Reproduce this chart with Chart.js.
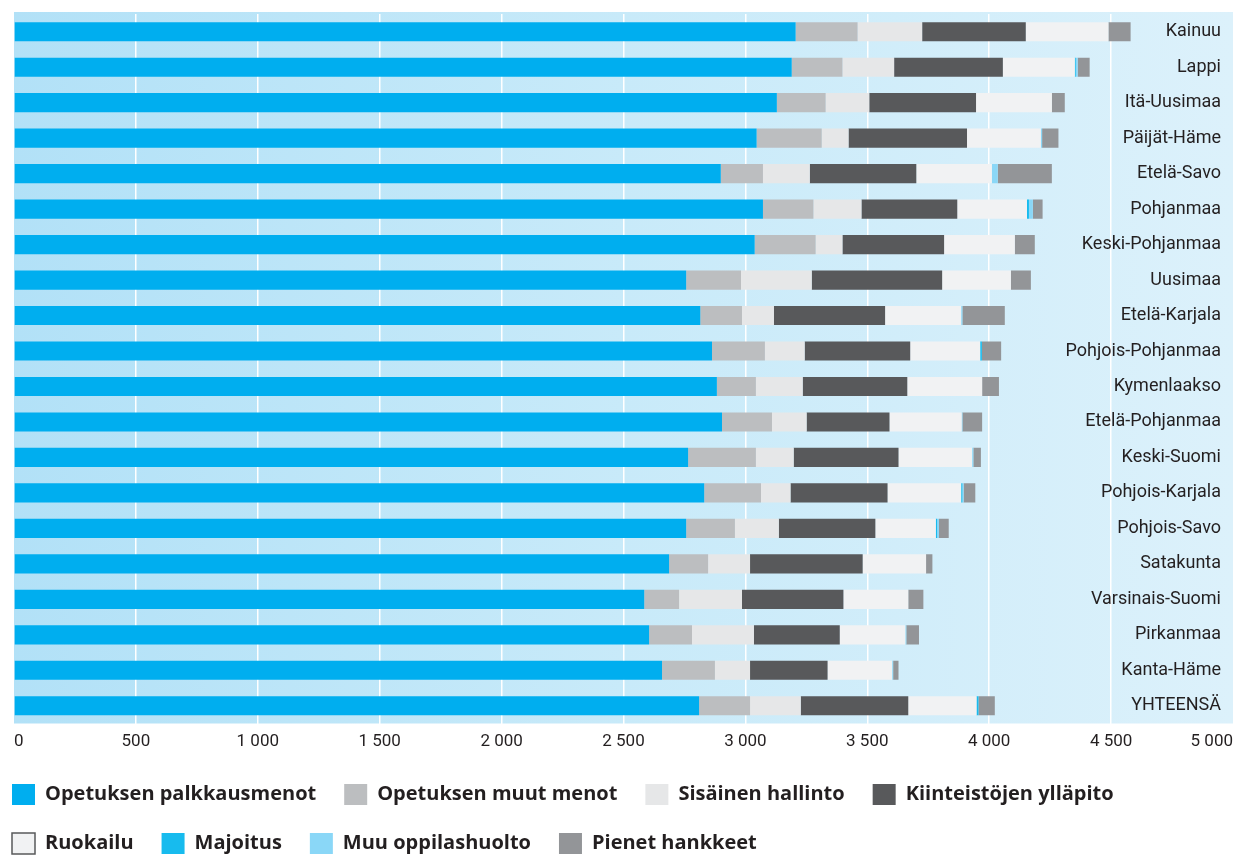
<!DOCTYPE html>
<html>
<head>
<meta charset="utf-8">
<script src="https://cdn.jsdelivr.net/npm/chart.js@4.4.1/dist/chart.umd.min.js"></script>
<style>
  html, body { margin: 0; padding: 0; background: #fff; overflow: hidden; }
  #wrap { position: relative; width: 1233px; height: 864px; }
</style>
</head>
<body>
<div id="wrap"><canvas id="costChart"></canvas></div>
<script>
// Regions, top to bottom
const regions = ['Kainuu', 'Lappi', 'Itä-Uusimaa', 'Päijät-Häme', 'Etelä-Savo', 'Pohjanmaa',
  'Keski-Pohjanmaa', 'Uusimaa', 'Etelä-Karjala', 'Pohjois-Pohjanmaa', 'Kymenlaakso',
  'Etelä-Pohjanmaa', 'Keski-Suomi', 'Pohjois-Karjala', 'Pohjois-Savo', 'Satakunta',
  'Varsinais-Suomi', 'Pirkanmaa', 'Kanta-Häme', 'YHTEENSÄ'];

const palkkausmenot = [3206, 3190, 3129, 3046, 2899, 3072, 3038, 2757, 2815, 2863, 2883, 2904, 2765, 2831, 2757, 2687, 2585, 2605, 2658, 2810];
const muutMenot     = [254, 208, 200, 267, 173, 207, 250, 225, 171, 217, 160, 205, 278, 233, 200, 160, 143, 176, 217, 209];
const hallinto      = [265, 212, 179, 110, 192, 197, 110, 290, 131, 163, 192, 142, 155, 121, 180, 172, 258, 254, 144, 208];
const kiinteistot   = [425, 446, 438, 486, 437, 393, 417, 535, 456, 433, 429, 340, 430, 398, 396, 462, 416, 352, 318, 441];
const ruokailu      = [339, 295, 311, 303, 310, 286, 290, 282, 312, 287, 307, 296, 302, 302, 248, 260, 266, 269, 265, 280];
const majoitus      = [0, 4, 0, 0, 0, 8, 0, 0, 0, 7, 0, 0, 0, 5, 5, 0, 0, 0, 0, 8];
const oppilashuolto = [0, 8, 0, 5, 24, 16, 0, 0, 5, 0, 0, 3, 5, 5, 8, 0, 0, 4, 4, 0];
const hankkeet      = [91, 49, 53, 67, 222, 40, 82, 82, 174, 79, 69, 81, 31, 48, 40, 26, 62, 52, 22, 67];

const xTickValues = [0, 500, 1000, 1500, 2000, 2500, 3000, 3500, 4000, 4500, 5000];

const textColor = '#231f20';
const axisFont = 'Roboto, "Liberation Sans", sans-serif';

function fmt(v) {
  return String(v).replace(/\B(?=(\d{3})+(?!\d))/g, ' ');
}

// light blue plot background
const plotBackground = {
  id: 'plotBackground',
  beforeDraw(chart) {
    const { ctx, chartArea: a } = chart;
    const g = ctx.createLinearGradient(a.left, 0, chart.width, 0);
    g.addColorStop(0, '#b2e1f7');
    g.addColorStop(0.5, '#c8eaf9');
    g.addColorStop(1, '#dcf1fb');
    ctx.save();
    ctx.fillStyle = g;
    ctx.fillRect(a.left, a.top - 2, chart.width - a.left, a.bottom - a.top + 2);
    ctx.restore();
  }
};

function series(label, data, color) {
  return { label: label, data: data, backgroundColor: color, borderWidth: 0 };
}

const ctx = document.getElementById('costChart').getContext('2d');

new Chart(ctx, {
  type: 'bar',
  data: {
    labels: regions,
    datasets: [
      series('Opetuksen palkkausmenot', palkkausmenot, '#00aeef'),
      series('Opetuksen muut menot', muutMenot, '#bcbec0'),
      series('Sisäinen hallinto', hallinto, '#e6e7e8'),
      series('Kiinteistöjen ylläpito', kiinteistot, '#58595b'),
      series('Ruokailu', ruokailu, '#f1f2f3'),
      series('Majoitus', majoitus, '#17bbee'),
      series('Muu oppilashuolto', oppilashuolto, '#8ad7f7'),
      series('Pienet hankkeet', hankkeet, '#939598')
    ]
  },
  options: {
    indexAxis: 'y',
    responsive: true,
    maintainAspectRatio: false,
    animation: false,
    layout: {
      padding: { top: 14, left: -16, right: 0, bottom: 0 }
    },
    datasets: {
      bar: { barPercentage: 0.54, categoryPercentage: 1 }
    },
    scales: {
      x: {
        stacked: true,
        min: 0,
        max: 5000,
        grid: {
          color: c => (c.tick && (c.tick.value === 0 || c.tick.value === 5000)) ? 'rgba(0,0,0,0)' : '#ffffff',
          lineWidth: 1.5,
          drawTicks: false
        },
        border: { display: false },
        ticks: {
          align: 'inner',
          padding: 8,
          color: textColor,
          font: { family: axisFont, size: 17 },
          callback: v => fmt(v)
        },
        afterBuildTicks(scale) {
          scale.ticks = xTickValues.map(v => ({ value: v }));
        },
        afterFit(scale) {
          scale.paddingLeft = 14;
          scale.paddingRight = 0;
          scale.height = 32.5;
        }
      },
      y: {
        stacked: true,
        position: 'right',
        grid: { display: false, drawTicks: false },
        border: { display: false },
        ticks: {
          mirror: true,
          padding: -12,
          color: textColor,
          font: { family: axisFont, size: 18 }
        },
        afterFit(scale) {
          scale.width = 0;
        }
      }
    },
    plugins: {
      legend: {
        position: 'bottom',
        align: 'start',
        labels: {
          boxWidth: 23,
          boxHeight: 21,
          padding: 28,
          color: textColor,
          font: { family: '"Open Sans", sans-serif', size: 20, weight: 'bold' },
          generateLabels(chart) {
            const items = Chart.defaults.plugins.legend.labels.generateLabels(chart);
            items.forEach(it => {
              it.lineWidth = it.text === 'Ruokailu' ? 1.5 : 0;
              it.strokeStyle = '#58595b';
            });
            return items;
          }
        }
      },
      tooltip: { enabled: false }
    }
  },
  plugins: [plotBackground]
});
</script>
</body>
</html>
